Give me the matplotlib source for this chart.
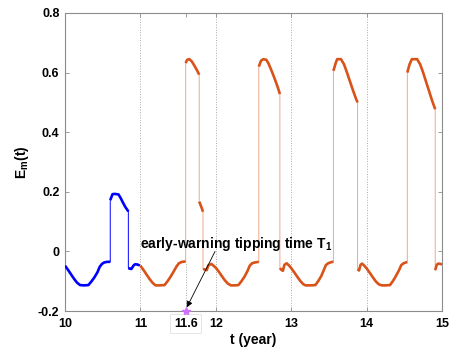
#!/usr/bin/env python3

import numpy as np
import matplotlib
matplotlib.use('Agg')
import matplotlib.pyplot as plt

plt.rcParams['font.family'] = ['Liberation Sans', 'DejaVu Sans']
plt.rcParams['font.weight'] = 'bold'
plt.rcParams['mathtext.fontset'] = 'custom'
plt.rcParams['mathtext.rm'] = 'Liberation Sans:bold'
plt.rcParams['mathtext.bf'] = 'Liberation Sans:bold'
plt.rcParams['mathtext.it'] = 'Liberation Sans:bold'

# first year (blue)
t_blue = [10.00, 10.04, 10.08, 10.12, 10.16, 10.20, 10.25, 10.31, 10.35, 10.39, 10.43, 10.46,
          10.49, 10.52, 10.56, 10.60,
          10.60, 10.63, 10.66, 10.71, 10.74, 10.77, 10.80, 10.84,
          10.84, 10.86, 10.88, 10.91, 10.93, 10.96, 10.99]
E_blue = [-0.048, -0.062, -0.077, -0.092, -0.105, -0.113, -0.114, -0.113, -0.101, -0.087, -0.070, -0.052,
          -0.042, -0.037, -0.035, -0.035,
          0.172, 0.192, 0.193, 0.191, 0.178, 0.163, 0.149, 0.134,
          -0.056, -0.058, -0.059, -0.047, -0.043, -0.044, -0.047]

# after t = 11 (orange)
t_orange = [11.00, 11.04, 11.08, 11.12, 11.16, 11.20, 11.25, 11.32, 11.36, 11.40, 11.44, 11.48, 11.51, 11.55, 11.60,
            11.60, 11.62, 11.65, 11.68, 11.71, 11.75, 11.78,
            11.78, 11.81, 11.83,
            11.83, 11.86, 11.88, 11.90, 11.94, 11.97,
            12.00, 12.04, 12.08, 12.12, 12.16, 12.20, 12.25, 12.30, 12.34, 12.38, 12.42, 12.45, 12.48, 12.52, 12.57,
            12.57, 12.60, 12.63, 12.67, 12.70, 12.74, 12.78, 12.82, 12.85,
            12.85, 12.87, 12.89, 12.91, 12.94, 12.97,
            13.00, 13.04, 13.08, 13.12, 13.16, 13.19, 13.25, 13.32, 13.36, 13.40, 13.43, 13.46, 13.49, 13.53, 13.56,
            13.56, 13.59, 13.61, 13.66, 13.70, 13.74, 13.78, 13.82, 13.86, 13.88,
            13.88, 13.90, 13.92, 13.94, 13.97,
            14.00, 14.04, 14.08, 14.12, 14.16, 14.20, 14.25, 14.31, 14.35, 14.39, 14.43, 14.46, 14.49, 14.52, 14.54,
            14.54, 14.57, 14.60, 14.67, 14.71, 14.75, 14.79, 14.83, 14.87, 14.91,
            14.91, 14.93, 14.95, 14.98, 15.00]
E_orange = [-0.048, -0.062, -0.077, -0.092, -0.105, -0.114, -0.114, -0.113, -0.100, -0.085, -0.068, -0.050, -0.040, -0.035, -0.034,
            0.632, 0.643, 0.645, 0.638, 0.626, 0.608, 0.593,
            0.167, 0.148, 0.133,
            -0.059, -0.061, -0.063, -0.047, -0.042, -0.048,
            -0.055, -0.068, -0.083, -0.097, -0.108, -0.114, -0.114, -0.113, -0.100, -0.085, -0.066, -0.048, -0.040, -0.037, -0.035,
            0.620, 0.640, 0.645, 0.643, 0.630, 0.606, 0.580, 0.552, 0.528,
            -0.056, -0.062, -0.065, -0.045, -0.040, -0.047,
            -0.056, -0.070, -0.085, -0.099, -0.110, -0.114, -0.114, -0.113, -0.099, -0.082, -0.064, -0.046, -0.040, -0.036, -0.035,
            0.606, 0.632, 0.645, 0.645, 0.628, 0.600, 0.570, 0.540, 0.512, 0.500,
            -0.060, -0.064, -0.045, -0.041, -0.048,
            -0.057, -0.071, -0.086, -0.100, -0.110, -0.114, -0.114, -0.113, -0.099, -0.082, -0.063, -0.046, -0.040, -0.037, -0.036,
            0.600, 0.628, 0.645, 0.645, 0.628, 0.600, 0.568, 0.537, 0.505, 0.477,
            -0.063, -0.045, -0.041, -0.042, -0.044]

t_warning = 11.6
grid_years = [11, 12, 13, 14]
x_ticks = [10, 11, 11.6, 12, 13, 14, 15]
x_labels = ['10', '11', '11.6', '12', '13', '14', '15']
y_ticks = [-0.2, 0, 0.2, 0.4, 0.6, 0.8]
y_labels = ['-0.2', '0', '0.2', '0.4', '0.6', '0.8']

blue = '#0000ff'
orange = '#d95319'


def split_jumps(t, e, thresh=0.1):
	t = np.asarray(t, float)
	e = np.asarray(e, float)
	tt, ee = [t[0]], [e[0]]
	for i in range(1, len(t)):
		if abs(e[i] - e[i - 1]) > thresh:
			tt.append(np.nan)
			ee.append(np.nan)
		tt.append(t[i])
		ee.append(e[i])
	return np.array(tt), np.array(ee)


fig = plt.figure(figsize=(4.49, 3.5), dpi=100)
ax = fig.add_axes([0.1448, 0.1114, 0.8396, 0.8515])

for x in grid_years:
	ax.axvline(x, color='#a8a8a8', linestyle=':', linewidth=0.7, zorder=0)

# dotted drop from curve to the warning point
ax.plot([t_warning, t_warning], [-0.2, -0.034], color='#a8a8a8', linestyle=':', linewidth=0.7, zorder=0)

ax.plot(t_blue, E_blue, color=blue, linewidth=0.7, zorder=2)
ax.plot(t_orange, E_orange, color=orange, linewidth=0.7, alpha=0.5, zorder=2)

tb, eb = split_jumps(t_blue, E_blue)
to, eo = split_jumps(t_orange, E_orange)
ax.plot(tb, eb, color=blue, linewidth=1.9, solid_capstyle='butt', zorder=3)
ax.plot(to, eo, color=orange, linewidth=1.9, solid_capstyle='butt', zorder=3)

ax.plot([t_warning], [-0.2], marker='*', color='#d070ff', markersize=6, linestyle='none',
	clip_on=False, zorder=5)

ax.annotate('', xy=(11.615, -0.188), xytext=(11.99, 0.0),
	arrowprops=dict(arrowstyle='-|>', color='black', lw=0.6, mutation_scale=9, shrinkA=0, shrinkB=0),
	zorder=6)
ax.text(11.0, 0.01, r'early-warning tipping time T$_\mathbf{1}$', fontsize=10, fontweight='bold',
	ha='left', va='baseline', zorder=6)

ax.set_xlim(10, 15)
ax.set_ylim(-0.2, 0.8)
ax.set_xticks(x_ticks)
ax.set_xticklabels(x_labels, fontsize=9, fontweight='bold')
ax.set_yticks(y_ticks)
ax.set_yticklabels(y_labels, fontsize=9, fontweight='bold')
ax.tick_params(direction='in', length=3, width=0.6, color='#8c8c8c', top=True, right=True)
ax.tick_params(axis='x', pad=5)
ax.tick_params(axis='y', pad=4)

for lbl in ax.get_xticklabels():
	if lbl.get_text() == '11.6':
		lbl.set_bbox(dict(facecolor='white', edgecolor='#e2e2e2', linewidth=0.6, pad=2.5))

for sp in ax.spines.values():
	sp.set_color('#8c8c8c')
	sp.set_linewidth(0.8)

ax.set_xlabel('t (year)', fontsize=10, fontweight='bold', labelpad=2)
ax.set_ylabel(r'$\mathbf{E_m(t)}$', fontsize=10, labelpad=5)

fig.savefig('out.png', dpi=100)
